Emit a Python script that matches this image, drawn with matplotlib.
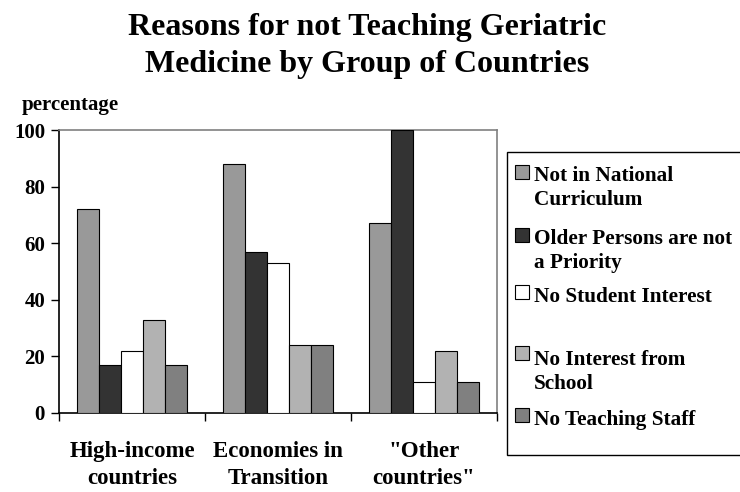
import numpy as np
import matplotlib
matplotlib.use('Agg')
import matplotlib.pyplot as plt
from matplotlib.patches import Rectangle

plt.rcParams['font.family'] = ['Liberation Serif', 'DejaVu Serif']
plt.rcParams['font.weight'] = 'bold'

# survey results, percent of schools giving each reason
groups = ['High-income\ncountries', 'Economies in\nTransition', '"Other\ncountries"']
reasons = ['Not in National\nCurriculum', 'Older Persons are not\na Priority',
           'No Student Interest', 'No Interest from\nSchool', 'No Teaching Staff']
not_in_curriculum = [72, 88, 67]
not_a_priority = [17, 57, 100]
no_student_interest = [22, 53, 11]
no_school_interest = [33, 24, 22]
no_teaching_staff = [17, 24, 11]
series = [not_in_curriculum, not_a_priority, no_student_interest,
          no_school_interest, no_teaching_staff]
colors = ['#999999', '#333333', '#ffffff', '#b2b2b2', '#808080']

W, H = 740, 492
fig = plt.figure(figsize=(7.4, 4.92), dpi=100)
ax = fig.add_axes([59 / W, 1 - 413 / H, 438 / W, 283 / H])

x = np.arange(len(groups))
bw = 0.152
for i, (vals, c) in enumerate(zip(series, colors)):
    ax.bar(x + (i - 2) * bw, vals, bw, color=c, edgecolor='black', linewidth=0.8, zorder=3)

ax.set_xlim(-0.5, 2.5)
ax.set_ylim(0, 100)
ax.set_yticks([0, 20, 40, 60, 80, 100])
ax.tick_params(axis='y', labelsize=15, length=6, width=1, direction='out', pad=4)
ax.set_xticks([-0.5, 0.5, 1.5, 2.5])
ax.set_xticklabels([])
ax.set_xticks(x, minor=True)
ax.set_xticklabels(groups, minor=True, fontsize=16.5, linespacing=1.42)
ax.tick_params(axis='x', which='major', length=6, width=1, direction='out')
ax.tick_params(axis='x', which='minor', length=0, pad=20)

for s in ['left', 'bottom']:
    ax.spines[s].set_color('black')
    ax.spines[s].set_linewidth(1.2)
for s in ['top', 'right']:
    ax.spines[s].set_color('#808080')
    ax.spines[s].set_linewidth(1.2)

fig.text(367 / W, 1 - 72 / H, 'Reasons for not Teaching Geriatric\nMedicine by Group of Countries',
         ha='center', va='baseline', fontsize=23, linespacing=1.35)
fig.text(22 / W, 1 - 110 / H, 'percentage', fontsize=15, va='baseline')

# legend box drawn by hand so each swatch sits on the first text line
fig.patches.append(Rectangle((507 / W, 1 - 455 / H), 240 / W, 303 / H, transform=fig.transFigure,
                             facecolor='white', edgecolor='black', linewidth=1))
first_base = [182, 245, 302, 363, 425]
last_base = [205, 268, 302, 389, 425]
for name, c, y0, y1 in zip(reasons, colors, first_base, last_base):
    fig.patches.append(Rectangle((515 / W, 1 - (y0 - 3) / H), 14 / W, 14 / H,
                                 transform=fig.transFigure, facecolor=c,
                                 edgecolor='black', linewidth=0.8))
    fig.text(534 / W, 1 - y1 / H, name, fontsize=15.3, va='baseline', linespacing=1.26)

fig.savefig('out.png', dpi=100)
